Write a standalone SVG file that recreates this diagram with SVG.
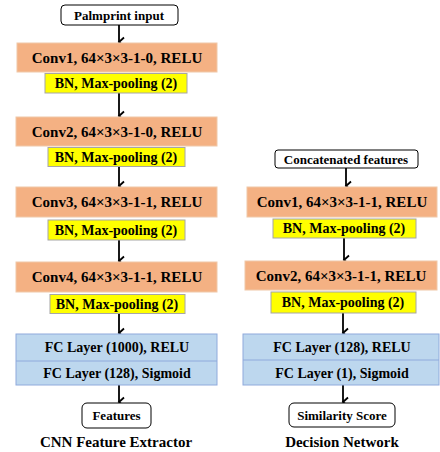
<svg xmlns="http://www.w3.org/2000/svg" width="440" height="452" viewBox="0 0 440 452">
<style>
text{font-family:"Liberation Serif","Times New Roman",serif;font-weight:bold;fill:#000;text-anchor:middle;dominant-baseline:central}
.io{fill:#fff;stroke:#000;stroke-width:1}
.conv{fill:#F4B183;stroke:#F0C8A8;stroke-width:1}
.bn{fill:#FFFF00;stroke:#A6A6A6;stroke-width:1}
.fc{fill:#BDD7EE;stroke:#8FAADC;stroke-width:1}
.t15{font-size:15px}
.t14{font-size:14px}
.t13{font-size:13px}
.cap{font-size:15px}
.c line{stroke:#000;stroke-width:1.8;marker-end:url(#ah)}
</style>
<defs>
<marker id="ah" markerWidth="12" markerHeight="12" refX="6" refY="10" orient="auto" markerUnits="userSpaceOnUse" viewBox="0 0 12 12">
<polyline points="1.5,5 6,10 10.5,5" fill="none" stroke="#000" stroke-width="1.8"/>
</marker>
</defs>
<g class="c">
<line x1="119" y1="25" x2="119" y2="42"/>
<line x1="119" y1="93" x2="119" y2="116"/>
<line x1="119" y1="166" x2="119" y2="186"/>
<line x1="119" y1="240" x2="119" y2="261"/>
<line x1="119" y1="313" x2="119" y2="333"/>
<line x1="119" y1="385" x2="119" y2="402"/>
<line x1="346" y1="168" x2="346" y2="186"/>
<line x1="344" y1="238" x2="344" y2="260"/>
<line x1="343" y1="313" x2="343" y2="333"/>
<line x1="343" y1="385" x2="343" y2="402"/>
</g>
<g id="palm"><rect class="io" x="61" y="5" width="117" height="20" rx="4"/><text class="t13" x="119" y="15.5">Palmprint input</text></g>
<g id="conv1"><rect class="conv" x="17" y="43" width="200" height="29"/><text class="t15" x="117" y="58">Conv1, 64×3×3-1-0, RELU</text></g>
<g id="bn1"><rect class="bn" x="45" y="73.5" width="142" height="19.5"/><text class="t14" x="116" y="83.5">BN, Max-pooling (2)</text></g>
<g id="conv2"><rect class="conv" x="16" y="117" width="201" height="29"/><text class="t15" x="117" y="132">Conv2, 64×3×3-1-0, RELU</text></g>
<g id="bn2"><rect class="bn" x="48" y="147.5" width="137" height="19"/><text class="t14" x="116" y="157">BN, Max-pooling (2)</text></g>
<g id="conv3"><rect class="conv" x="16" y="187" width="201" height="30"/><text class="t15" x="117" y="202">Conv3, 64×3×3-1-1, RELU</text></g>
<g id="bn3"><rect class="bn" x="48" y="220" width="137" height="20"/><text class="t14" x="116" y="230">BN, Max-pooling (2)</text></g>
<g id="conv4"><rect class="conv" x="16" y="262" width="201" height="30"/><text class="t15" x="117" y="277">Conv4, 64×3×3-1-1, RELU</text></g>
<g id="bn4"><rect class="bn" x="50" y="294.5" width="135" height="19"/><text class="t14" x="117" y="304">BN, Max-pooling (2)</text></g>
<g id="fc1"><rect class="fc" x="16" y="334" width="201" height="51"/><line x1="16" y1="361" x2="217" y2="361" stroke="#8FAADC"/><text class="t14" x="117" y="347.5">FC Layer (1000), RELU</text><text class="t14" x="117" y="373">FC Layer (128), Sigmoid</text></g>
<g id="features"><rect class="io" x="82" y="403" width="69" height="25" rx="5"/><text class="t13" x="116.5" y="415.5">Features</text></g>
<text class="cap" x="116" y="442">CNN Feature Extractor</text>
<g id="concat"><rect class="io" x="275" y="150" width="143" height="18" rx="3"/><text class="t13" x="346" y="159">Concatenated features</text></g>
<g id="dconv1"><rect class="conv" x="247" y="187" width="190" height="30"/><text class="t15" x="342" y="202">Conv1, 64×3×3-1-1, RELU</text></g>
<g id="dbn1"><rect class="bn" x="273" y="219" width="143" height="19"/><text class="t14" x="344" y="228.5">BN, Max-pooling (2)</text></g>
<g id="dconv2"><rect class="conv" x="245" y="261" width="192" height="29"/><text class="t15" x="341" y="276">Conv2, 64×3×3-1-1, RELU</text></g>
<g id="dbn2"><rect class="bn" x="271" y="292" width="145" height="21"/><text class="t14" x="343" y="302">BN, Max-pooling (2)</text></g>
<g id="dfc"><rect class="fc" x="243" y="334" width="196" height="51"/><line x1="243" y1="360" x2="439" y2="360" stroke="#8FAADC"/><text class="t14" x="342" y="347.5">FC Layer (128), RELU</text><text class="t14" x="342" y="373">FC Layer (1), Sigmoid</text></g>
<g id="score"><rect class="io" x="289" y="403" width="106" height="24" rx="5"/><text class="t13" x="342" y="415">Similarity Score</text></g>
<text class="cap" x="342" y="442">Decision Network</text>
</svg>
